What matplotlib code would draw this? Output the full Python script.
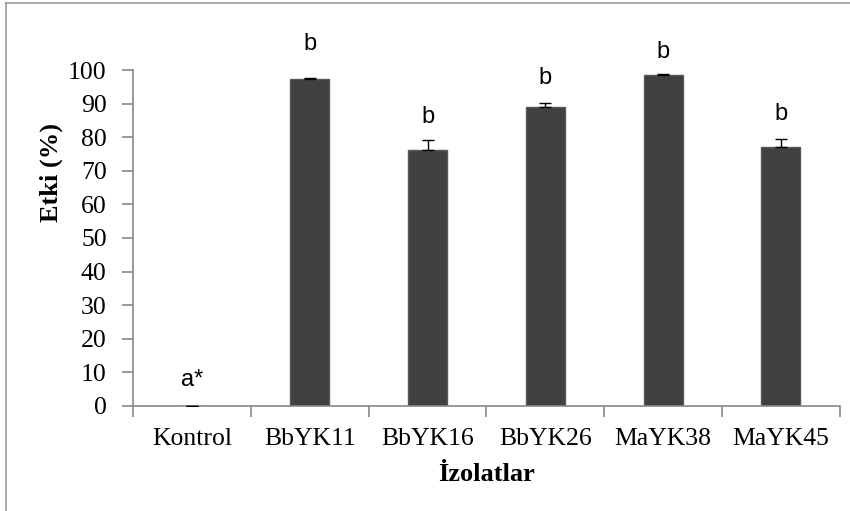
import matplotlib.pyplot as plt
from matplotlib.lines import Line2D

isolates = ["Kontrol", "BbYK11", "BbYK16", "BbYK26", "MaYK38", "MaYK45"]
effect = [0, 97.2, 76.2, 89, 98.5, 77.2]
errors = [0, 0.5, 3.0, 1.2, 0.3, 2.2]
letters = ["a*", "b", "b", "b", "b", "b"]
label_pos = [7.8, 107.7, 86, 97.5, 105.4, 87]

fig = plt.figure(figsize=(8.5, 5.11), dpi=100)
ax = fig.add_axes([0.1565, 0.2055, 0.8315, 0.6575])

x = list(range(len(isolates)))
ax.bar(x, effect, width=0.33, color="#404040", edgecolor="#595959", linewidth=1.0, zorder=2)
ax.errorbar(x, effect, yerr=[[0] * len(errors), errors], fmt="none", ecolor="black",
            elinewidth=1.0, capsize=4, capthick=1.0, zorder=3)
ax.plot([0], [0], marker="_", color="#999999", markersize=9, markeredgewidth=2)

for xi, lab, yp in zip(x, letters, label_pos):
    ax.text(xi, yp, lab, ha="center", va="center", fontsize=17, family="Liberation Sans",
            clip_on=False)

ax.set_xlim(-0.5, len(isolates) - 0.5)
ax.set_ylim(0, 100)
ax.set_yticks(range(0, 101, 10))
ax.set_xticks([i - 0.5 for i in range(0, len(isolates) + 1)], minor=False)
ax.set_xticklabels([])
ax.set_xticks(x, minor=True)
ax.set_xticklabels(isolates, minor=True)
ax.tick_params(axis="x", which="major", length=8, color="#888888", direction="out", width=1.2)
ax.tick_params(axis="x", which="minor", length=0, pad=16, labelsize=18.5)
ax.tick_params(axis="y", length=8, color="#888888", labelsize=18.5, pad=11, width=1.2)
for lab in ax.get_xticklabels(minor=True) + ax.get_yticklabels():
    lab.set_family("Liberation Serif")

for s in ["top", "right"]:
    ax.spines[s].set_visible(False)
ax.spines["left"].set_color("#888888")
ax.spines["bottom"].set_color("#888888")
ax.spines["left"].set_linewidth(1.2)
ax.spines["bottom"].set_linewidth(1.2)

ax.set_ylabel("Etki (%)", fontsize=19, fontweight="bold", family="Liberation Serif")
ax.yaxis.set_label_coords(-0.099, 0.696)
ax.set_xlabel("İzolatlar", fontsize=19, fontweight="bold", family="Liberation Serif")
ax.xaxis.set_label_coords(0.5, -0.17)

# outer chart frame
fig.add_artist(Line2D([0.007, 0.007], [0, 0.994], transform=fig.transFigure, color="#999999", lw=1.2))
fig.add_artist(Line2D([0.007, 1], [0.994, 0.994], transform=fig.transFigure, color="#999999", lw=1.2))

fig.savefig("out.png", dpi=100)
